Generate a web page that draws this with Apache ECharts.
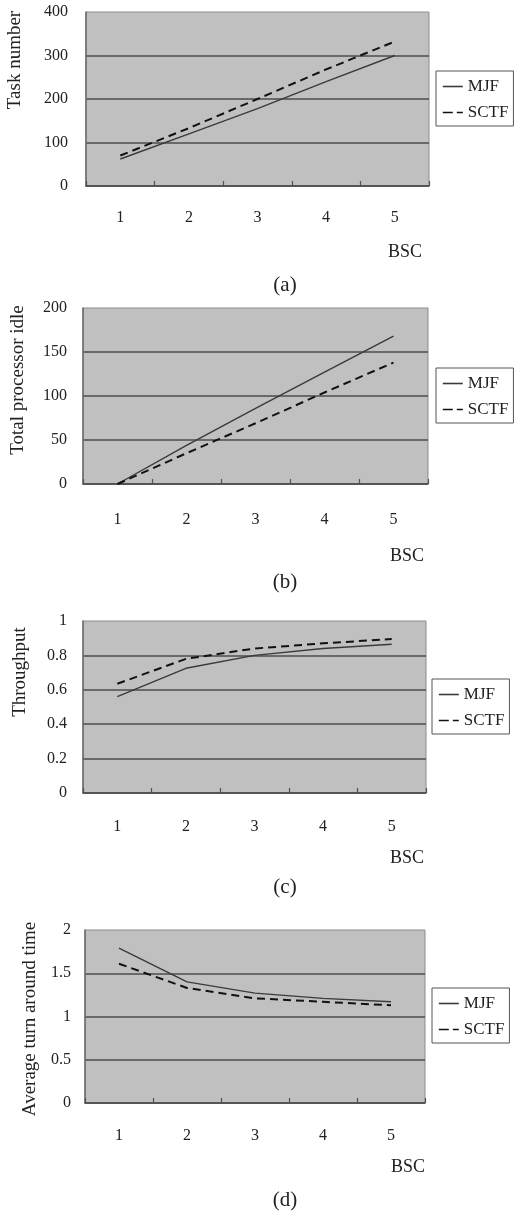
<!DOCTYPE html>
<html><head><meta charset="utf-8">
<script src="https://cdn.jsdelivr.net/npm/echarts@6/dist/echarts.min.js"></script>
<style>html,body{margin:0;padding:0;background:#fff}#c{width:518px;height:1219px}</style>
</head><body><div id="c"></div>
<script>
// ---- data ----
const categories = ['1', '2', '3', '4', '5'];
const seriesNames = ['MJF', 'SCTF'];
const taskMJF = [62, 120, 178, 240, 300];
const taskSCTF = [70, 133, 200, 268, 332];
const idleMJF = [0, 44, 86, 127, 168];
const idleSCTF = [0, 35, 69, 104, 138];
const thrMJF = [0.56, 0.725, 0.80, 0.84, 0.865];
const thrSCTF = [0.635, 0.78, 0.84, 0.87, 0.895];
const tatMJF = [1.79, 1.40, 1.27, 1.21, 1.17];
const tatSCTF = [1.61, 1.33, 1.21, 1.17, 1.13];
const yMax = [400, 200, 1, 2];
const yStep = [100, 50, 0.2, 0.5];
const yTitles = ['Task number', 'Total processor idle', 'Throughput', 'Average turn around time'];
const xTitle = 'BSC';
const captions = ['(a)', '(b)', '(c)', '(d)'];

const FONT = "'Liberation Serif','Times New Roman',serif";
const TXT = '#222';
const panels = [[taskMJF, taskSCTF], [idleMJF, idleSCTF], [thrMJF, thrSCTF], [tatMJF, tatSCTF]];

// layout
const grids = [
  {left: 86, top: 12, width: 343, height: 174},
  {left: 83, top: 308, width: 345, height: 176},
  {left: 83, top: 621, width: 343, height: 172},
  {left: 85, top: 930, width: 340, height: 173}
];
const yLabelMargin = [18, 16, 16, 14];
const xLabelMargin = [24, 28, 26, 25];
const legendPos = [[436, 71], [436, 368], [432, 679], [432, 988]];
const yTitlePos = [[15.5, 60], [18.5, 380], [20, 672], [30, 1019]];
const bscPos = [[422, 252], [424, 556], [424, 858], [425, 1167]];
const capPos = [285, 582, 887, 1200];

const option = {
  backgroundColor: '#fff',
  animation: false,
  grid: grids.map(g => Object.assign({
    show: true, backgroundColor: '#c0c0c0', borderColor: '#8c8c8c', borderWidth: 1, containLabel: false
  }, g)),
  xAxis: grids.map((g, i) => ({
    type: 'category', gridIndex: i, data: categories, boundaryGap: true,
    axisLine: {show: true, lineStyle: {color: '#505050', width: 1.5}},
    axisTick: {show: true, inside: true, length: 5, lineStyle: {color: '#505050', width: 1.2}},
    axisLabel: {margin: xLabelMargin[i], fontFamily: FONT, fontSize: 16, color: TXT},
    splitLine: {show: false}
  })),
  yAxis: grids.map((g, i) => ({
    type: 'value', gridIndex: i, min: 0, max: yMax[i], interval: yStep[i],
    axisLine: {show: true, lineStyle: {color: '#6a6a6a', width: 1.5}},
    axisTick: {show: false},
    axisLabel: {margin: yLabelMargin[i], fontFamily: FONT, fontSize: 16, color: TXT},
    splitLine: {show: true, showMaxLine: false, lineStyle: {color: '#4c4c4c', width: 1.5}}
  })),
  legend: legendPos.map((p, i) => ({
    orient: 'vertical', left: p[0], top: p[1],
    itemWidth: 20, itemHeight: 12, itemGap: 9,
    padding: [7, 5, 5, 6],
    borderColor: '#555', borderWidth: 1, backgroundColor: '#fff',
    itemStyle: {opacity: 0},
    textStyle: {fontFamily: FONT, fontSize: 17, color: TXT},
    data: [
      {name: seriesNames[0], itemStyle: {opacity: 0}, lineStyle: {width: 1.6}},
      {name: seriesNames[1], itemStyle: {opacity: 0}, lineStyle: {width: 1.6, type: [10, 4]}}
    ]
  })),
  series: [],
  graphic: []
};

panels.forEach((pair, i) => {
  option.series.push({
    name: seriesNames[0], type: 'line', xAxisIndex: i, yAxisIndex: i, data: pair[0],
    symbol: 'none', lineStyle: {color: '#3a3a3a', width: 1.4, type: 'solid'}, itemStyle: {color: '#3a3a3a'}
  });
  option.series.push({
    name: seriesNames[1], type: 'line', xAxisIndex: i, yAxisIndex: i, data: pair[1],
    symbol: 'none', lineStyle: {color: '#111', width: 2, type: [8, 5]}, itemStyle: {color: '#111'}
  });
  option.graphic.push({
    type: 'text', x: yTitlePos[i][0], y: yTitlePos[i][1], rotation: Math.PI / 2,
    style: {text: yTitles[i], font: '19px ' + FONT, fill: TXT, textAlign: 'center', textVerticalAlign: 'middle'}
  });
  option.graphic.push({
    type: 'text', x: bscPos[i][0], y: bscPos[i][1],
    style: {text: xTitle, font: '18px ' + FONT, fill: TXT, textAlign: 'right', textVerticalAlign: 'middle'}
  });
  option.graphic.push({
    type: 'text', x: 285, y: capPos[i],
    style: {text: captions[i], font: '21px ' + FONT, fill: TXT, textAlign: 'center', textVerticalAlign: 'middle'}
  });
});

const chart = echarts.init(document.getElementById('c'), null, {renderer: 'canvas'});
chart.setOption(option);
</script>
</body></html>
